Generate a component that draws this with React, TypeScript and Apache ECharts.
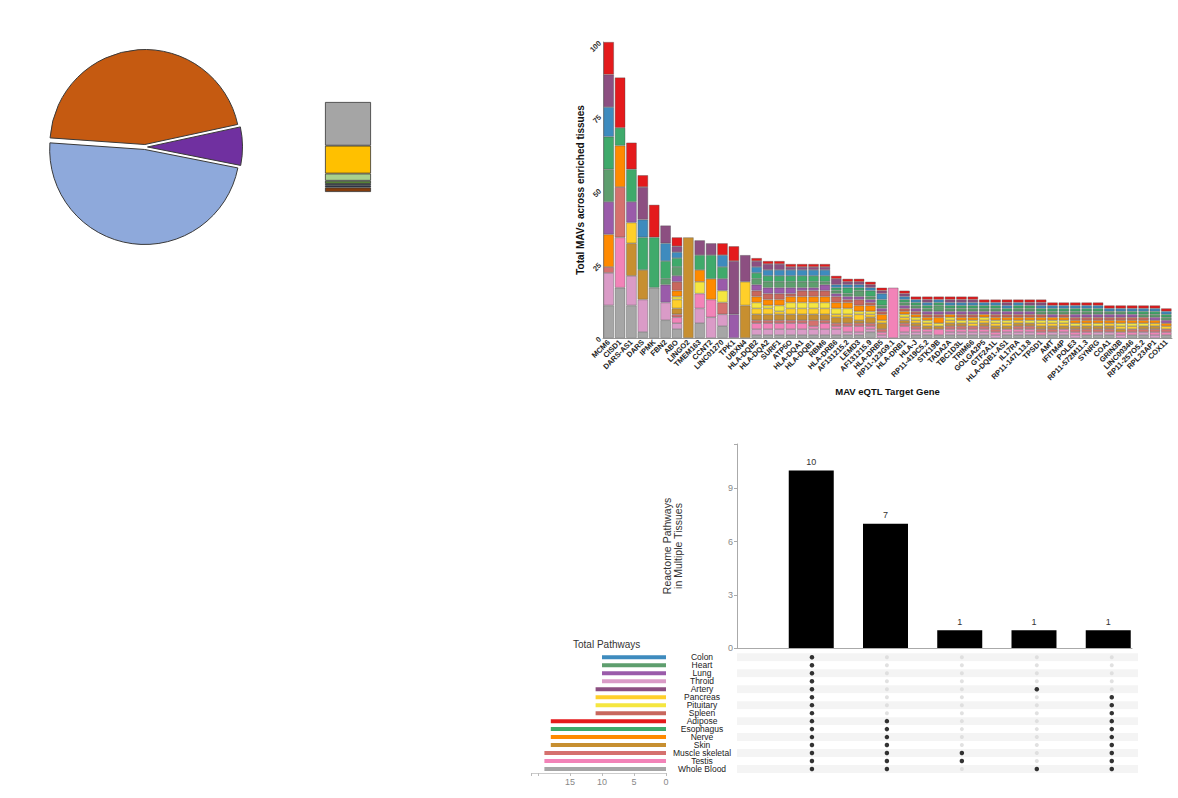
import React, { useEffect, useRef } from "react";
import * as echarts from "echarts";

const FONT = "'Liberation Sans', Arial, sans-serif";

// ---------- Pie ----------
const pieNames = ["Group A", "Group B", "Group C"];
const pieValues = [45.5, 6.5, 48];
const pieColors = ["#C55A11", "#7030A0", "#8EA9DB"];

// ---------- Small 100% stacked bar (bottom -> top) ----------
const shareNames = ["S1", "S2", "S3", "S4", "S5", "S6", "S7"];
const shareValues = [5, 2, 2, 3.5, 8, 31, 48.5];
const shareColors = ["#843C0C", "#1F3864", "#244062", "#548235", "#A9D18E", "#FFC000", "#A5A5A5"];

// ---------- MAV stacked bar chart ----------
const genes = [
  "MCM6", "CISD1", "DARS-AS1", "DARS", "IPMK", "FBN2", "ABO", "LINGO2", "TMEM163", "CCNT2",
  "LINC01270", "TPK1", "UBXN4", "HLA-DQB2", "HLA-DQA2", "SURF1", "ATP5O", "HLA-DQA1", "HLA-DQB1", "RBM6",
  "HLA-DRB6", "AF131215.2", "LEMD3", "AF131215.9", "HLA-DRB5", "RP11-123G9.1", "HLA-DRB1", "HLA-J", "RP11-419C5.2", "STK19B",
  "TADA2A", "TBC1D3L", "TRIM66", "GOLGA2P5", "GTF2A1L", "HLA-DQB1-AS1", "IL17RA", "RP11-147L13.8", "TPSD1", "AMT",
  "IFITM4P", "POLE3", "RP11-572M11.3", "SYNRG", "COA1", "GRIN3B", "LINC00346", "RP11-257O5.2", "RPL23AP1", "COX11",
];

const wholeBlood = [11,17,11,2,17,6,3,0,5,0,4,0,0, 1,1,1,1,1,1,1,1,1,1,2,0,0,1, 1,1,1,1,1,1, 1,0,1,1,1,1, 1,1,0,1,1, 1,0,1,1,0, 1];
const thyroid = [11,0,10,11,0,6,2,0,5,7,4,0,0, 2,2,2,2,2,2,2,2,1,1,1,1,0,1, 1,1,0,1,1,1, 1,1,1,1,1,0, 1,1,1,0,1, 1,1,0,1,1, 0];
const testis = [0,17,0,0,0,0,2,0,5,6,0,0,0, 2,2,2,2,2,1,2,1,2,2,1,1,17,2, 1,1,2,1,1,1, 1,1,1,1,1,1, 0,1,1,1,0, 0,1,1,0,1, 1];
const muscle = [2,17,0,0,0,0,1,0,0,0,4,0,0, 1,1,1,1,1,2,1,1,1,1,1,1,0,1, 1,0,0,1,1,1, 1,1,0,1,1,1, 1,0,1,1,1, 1,0,1,1,1, 1];
const skin = [0,0,11,10,0,0,2,34,0,0,0,0,11, 2,2,2,2,2,2,2,2,2,1,2,2,0,1, 1,1,1,1,1,0, 1,1,1,1,1,1, 1,1,1,1,1, 1,1,0,1,1, 0];
const pancreas = [0,0,7,0,0,0,3,0,0,0,0,0,8, 2,2,1,2,2,2,2,1,1,2,1,1,0,1, 1,1,0,1,0,1, 1,1,1,1,0,1, 1,1,0,1,0, 1,1,1,0,1, 1];
const pituitary = [0,0,0,0,0,0,1,0,4,0,4,0,0, 2,1,2,2,2,2,2,2,2,1,1,0,0,1, 1,1,1,1,1,1, 1,1,1,0,1,1, 1,1,1,0,1, 0,1,1,1,0, 0];
const nerve = [11,14,0,0,0,0,2,0,4,7,0,0,0, 2,2,2,2,2,2,2,2,2,2,2,2,0,1, 1,1,2,1,1,1, 1,1,1,1,1,1, 1,1,1,1,1, 1,1,1,1,1, 1];
const spleen = [0,0,0,0,0,0,3,0,0,0,0,0,0, 2,2,2,1,2,2,2,2,1,2,1,1,0,1, 1,1,1,0,1,1, 0,1,1,1,1,1, 0,1,1,1,1, 1,1,1,1,0, 0];
const lung = [11,0,7,0,0,6,2,0,0,0,4,8,0, 2,2,2,2,1,1,2,1,1,1,1,1,0,1, 1,1,1,1,1,1, 1,1,1,1,1,0, 1,0,1,1,1, 1,1,1,0,1, 1];
const heart = [11,0,0,0,0,2,3,0,0,0,0,0,0, 2,2,2,2,2,2,1,1,1,2,1,1,0,1, 1,1,2,1,1,1, 1,1,0,1,1,1, 1,1,1,1,1, 1,1,0,1,1, 1];
const esophagus = [11,6,11,11,17,6,3,0,5,8,4,0,0, 2,2,2,2,2,2,2,1,2,1,2,2,0,1, 1,1,1,1,1,1, 1,1,1,1,1,1, 1,1,1,1,1, 0,0,1,1,1, 1];
const colon = [10,0,0,6,0,6,2,0,0,0,4,0,0, 2,2,2,2,2,2,2,1,1,1,1,2,0,1, 1,1,1,1,1,1, 1,1,1,1,0,1, 1,1,1,1,1, 1,1,1,1,1, 1];
const artery = [11,0,0,11,0,6,2,0,5,4,0,18,9, 2,2,2,1,1,1,1,2,1,1,1,1,0,1, 0,1,0,1,1,1, 0,0,1,0,1,1, 0,0,0,0,0, 0,0,0,0,0, 0];
const adipose = [11,17,9,4,11,0,3,0,0,0,4,5,0, 1,1,1,1,1,1,1,1,1,1,1,1,0,1, 1,1,1,1,1,1, 1,1,1,1,1,1, 1,1,1,1,1, 1,1,1,1,1, 1];

const stackOrder = [
  "Whole Blood", "Throid", "Testis", "Muscle skeletal", "Skin", "Pancreas", "Pituitary", "Nerve",
  "Spleen", "Lung", "Heart", "Esophagus", "Colon", "Artery", "Adipose",
];
const stackData = [
  wholeBlood, thyroid, testis, muscle, skin, pancreas, pituitary, nerve,
  spleen, lung, heart, esophagus, colon, artery, adipose,
];

const tissueColor: Record<string, string> = {
  "Colon": "#3E8BBE",
  "Heart": "#5E9E6E",
  "Lung": "#9A5BAA",
  "Throid": "#DA9BC7",
  "Artery": "#8C4F81",
  "Pancreas": "#FFCF2A",
  "Pituitary": "#F5E640",
  "Spleen": "#C8675D",
  "Adipose": "#E41A1C",
  "Esophagus": "#3FAA6B",
  "Nerve": "#FF8A00",
  "Skin": "#C78F30",
  "Muscle skeletal": "#D5716E",
  "Testis": "#F283B8",
  "Whole Blood": "#A6A6A6",
};

// ---------- UpSet ----------
const upsetTissues = [
  "Colon", "Heart", "Lung", "Throid", "Artery", "Pancreas", "Pituitary", "Spleen",
  "Adipose", "Esophagus", "Nerve", "Skin", "Muscle skeletal", "Testis", "Whole Blood",
];
const totalPathways = [10, 10, 10, 10, 11, 11, 11, 11, 18, 18, 18, 18, 19, 19, 19];
const intersectionCounts = [10, 7, 1, 1, 1];
const intersectionMembers = [
  ["Colon", "Heart", "Lung", "Throid", "Artery", "Pancreas", "Pituitary", "Spleen", "Adipose", "Esophagus", "Nerve", "Skin", "Muscle skeletal", "Testis", "Whole Blood"],
  ["Adipose", "Esophagus", "Nerve", "Skin", "Muscle skeletal", "Testis", "Whole Blood"],
  ["Muscle skeletal", "Testis"],
  ["Artery", "Whole Blood"],
  ["Pancreas", "Pituitary", "Spleen", "Adipose", "Esophagus", "Nerve", "Skin", "Muscle skeletal", "Testis", "Whole Blood"],
];

export default function App() {
  const ref = useRef<HTMLDivElement>(null);

  useEffect(() => {
    if (!ref.current) return;
    const chart = echarts.init(ref.current, undefined, { renderer: "svg" });

    const emptyDots: any[] = [];
    const filledDots: any[] = [];
    intersectionMembers.forEach((members, k) => {
      upsetTissues.forEach((t) => {
        if (members.includes(t)) filledDots.push([k + 1, t]);
        else emptyDots.push([k + 1, t]);
      });
    });

    const matrixTop = 653.3;
    const matrixHeight = 119.7;

    const option: any = {
      animation: false,
      textStyle: { fontFamily: FONT },
      title: [
        {
          text: "Total Pathways",
          left: 573,
          top: 639,
          padding: 0,
          textStyle: { fontSize: 10, fontWeight: "normal", color: "#333", fontFamily: FONT },
        },
      ],
      grid: [
        { left: 603, top: 42, width: 569, height: 296 },
        { left: 737, top: 444, width: 395, height: 204 },
        { left: 737, top: matrixTop, width: 401, height: matrixHeight },
        { left: 531.6, top: matrixTop, width: 134.4, height: matrixHeight },
        { left: 325, top: 102, width: 46, height: 90 },
      ],
      xAxis: [
        {
          type: "category",
          gridIndex: 0,
          data: genes,
          axisLine: { show: true, lineStyle: { color: "#999" } },
          axisTick: { show: false },
          axisLabel: {
            interval: 0,
            rotate: 45,
            fontSize: 7.5,
            fontWeight: "bold",
            color: "#222",
            margin: 3,
            fontFamily: FONT,
          },
          name: "MAV eQTL Target Gene",
          nameLocation: "middle",
          nameGap: 47,
          nameTextStyle: { fontSize: 9.5, fontWeight: "bold", color: "#111", fontFamily: FONT },
        },
        {
          type: "value",
          gridIndex: 1,
          min: 0,
          max: 5.32,
          axisLine: { show: true, lineStyle: { color: "#aaa" } },
          axisTick: { show: false },
          axisLabel: { show: false },
          splitLine: { show: false },
        },
        {
          type: "value",
          gridIndex: 2,
          min: 0,
          max: 5.35,
          show: false,
        },
        {
          type: "value",
          gridIndex: 3,
          inverse: true,
          min: 0,
          max: 21,
          interval: 5,
          position: "bottom",
          axisLine: { show: true, onZero: false, lineStyle: { color: "#ccc" } },
          axisTick: { show: true, length: 3, lineStyle: { color: "#bbb" } },
          axisLabel: {
            fontSize: 9,
            color: "#888",
            margin: 4,
            fontFamily: FONT,
            formatter: (v: number) => (v <= 15 && v % 5 === 0 ? String(v) : ""),
          },
          splitLine: { show: false },
        },
        {
          type: "category",
          gridIndex: 4,
          data: ["Share"],
          show: false,
        },
      ],
      yAxis: [
        {
          type: "value",
          gridIndex: 0,
          min: 0,
          max: 100,
          interval: 25,
          axisLine: { show: true, lineStyle: { color: "#999" } },
          axisTick: { show: false },
          splitLine: { show: false },
          axisLabel: {
            rotate: 45,
            fontSize: 7.5,
            fontWeight: "bold",
            color: "#333",
            margin: 3,
            fontFamily: FONT,
          },
          name: "Total MAVs across enriched tissues",
          nameLocation: "middle",
          nameGap: 15,
          nameTextStyle: { fontSize: 10, fontWeight: "bold", color: "#111", fontFamily: FONT },
        },
        {
          type: "value",
          gridIndex: 1,
          min: 0,
          max: 11.5,
          interval: 3,
          axisLine: { show: true, lineStyle: { color: "#aaa" } },
          axisTick: { show: true, length: 3, lineStyle: { color: "#aaa" } },
          splitLine: { show: false },
          axisLabel: {
            fontSize: 9,
            color: "#888",
            margin: 4,
            fontFamily: FONT,
            formatter: (v: number) => (v % 3 === 0 ? String(v) : ""),
          },
          name: "Reactome Pathways\nin Multiple Tissues",
          nameLocation: "middle",
          nameGap: 54,
          nameTextStyle: { fontSize: 10.5, color: "#333", lineHeight: 11, fontFamily: FONT },
        },
        {
          type: "category",
          gridIndex: 2,
          data: upsetTissues,
          inverse: true,
          axisLine: { show: false },
          axisTick: { show: false },
          axisLabel: {
            interval: 0,
            margin: 35,
            align: "center",
            fontSize: 8.5,
            lineHeight: 8,
            color: "#222",
            fontFamily: FONT,
          },
          splitArea: { show: true, interval: 0, areaStyle: { color: ["#F4F4F4", "#FFFFFF"] } },
        },
        {
          type: "category",
          gridIndex: 3,
          data: upsetTissues,
          inverse: true,
          show: false,
        },
        {
          type: "value",
          gridIndex: 4,
          min: 0,
          max: 100,
          show: false,
        },
      ],
      series: [
        {
          type: "pie",
          center: [145, 147],
          radius: 95,
          startAngle: 176,
          clockwise: true,
          selectedMode: "multiple",
          selectedOffset: 2.5,
          label: { show: false },
          labelLine: { show: false },
          itemStyle: { borderColor: "#3a3a3a", borderWidth: 1 },
          select: { itemStyle: { borderColor: "#3a3a3a", borderWidth: 1 } },
          emphasis: { disabled: true },
          data: pieNames.map((n, i) => ({
            name: n,
            value: pieValues[i],
            selected: true,
            itemStyle: { color: pieColors[i] },
          })),
        },
        ...shareNames.map((n, i) => ({
          type: "bar",
          name: n,
          xAxisIndex: 4,
          yAxisIndex: 4,
          stack: "share",
          barWidth: "100%",
          silent: true,
          itemStyle: { color: shareColors[i], borderColor: "#333", borderWidth: 0.8 },
          data: [shareValues[i]],
        })),
        ...stackOrder.map((t, i) => ({
          type: "bar",
          name: t,
          xAxisIndex: 0,
          yAxisIndex: 0,
          stack: "mav",
          barCategoryGap: "8%",
          silent: true,
          itemStyle: {
            color: tissueColor[t],
            borderColor: "rgba(70,70,70,0.6)",
            borderWidth: 0.6,
          },
          data: stackData[i].map((v) => (v === 0 ? "-" : v)),
        })),
        {
          type: "bar",
          name: "Intersections",
          xAxisIndex: 1,
          yAxisIndex: 1,
          barWidth: 45,
          silent: true,
          itemStyle: { color: "#000" },
          label: {
            show: true,
            position: "top",
            distance: 4,
            fontSize: 9,
            color: "#333",
            fontFamily: FONT,
            formatter: (p: any) => String(p.value[1]),
          },
          data: intersectionCounts.map((v, i) => [i + 1, v]),
        },
        {
          type: "scatter",
          name: "Not in set",
          xAxisIndex: 2,
          yAxisIndex: 2,
          symbolSize: 4,
          silent: true,
          itemStyle: { color: "#D9D9D9" },
          data: emptyDots,
        },
        {
          type: "scatter",
          name: "In set",
          xAxisIndex: 2,
          yAxisIndex: 2,
          symbolSize: 4.5,
          silent: true,
          itemStyle: { color: "#000" },
          data: filledDots,
        },
        {
          type: "bar",
          name: "Total Pathways",
          xAxisIndex: 3,
          yAxisIndex: 3,
          barWidth: 4,
          silent: true,
          data: totalPathways.map((v, i) => ({
            value: v,
            itemStyle: { color: tissueColor[upsetTissues[i]] },
          })),
        },
      ],
    };

    chart.setOption(option);
    return () => chart.dispose();
  }, []);

  return (
    <div
      ref={ref}
      style={{ position: "fixed", left: 0, top: 0, width: 1178, height: 798, background: "#fff" }}
    />
  );
}
